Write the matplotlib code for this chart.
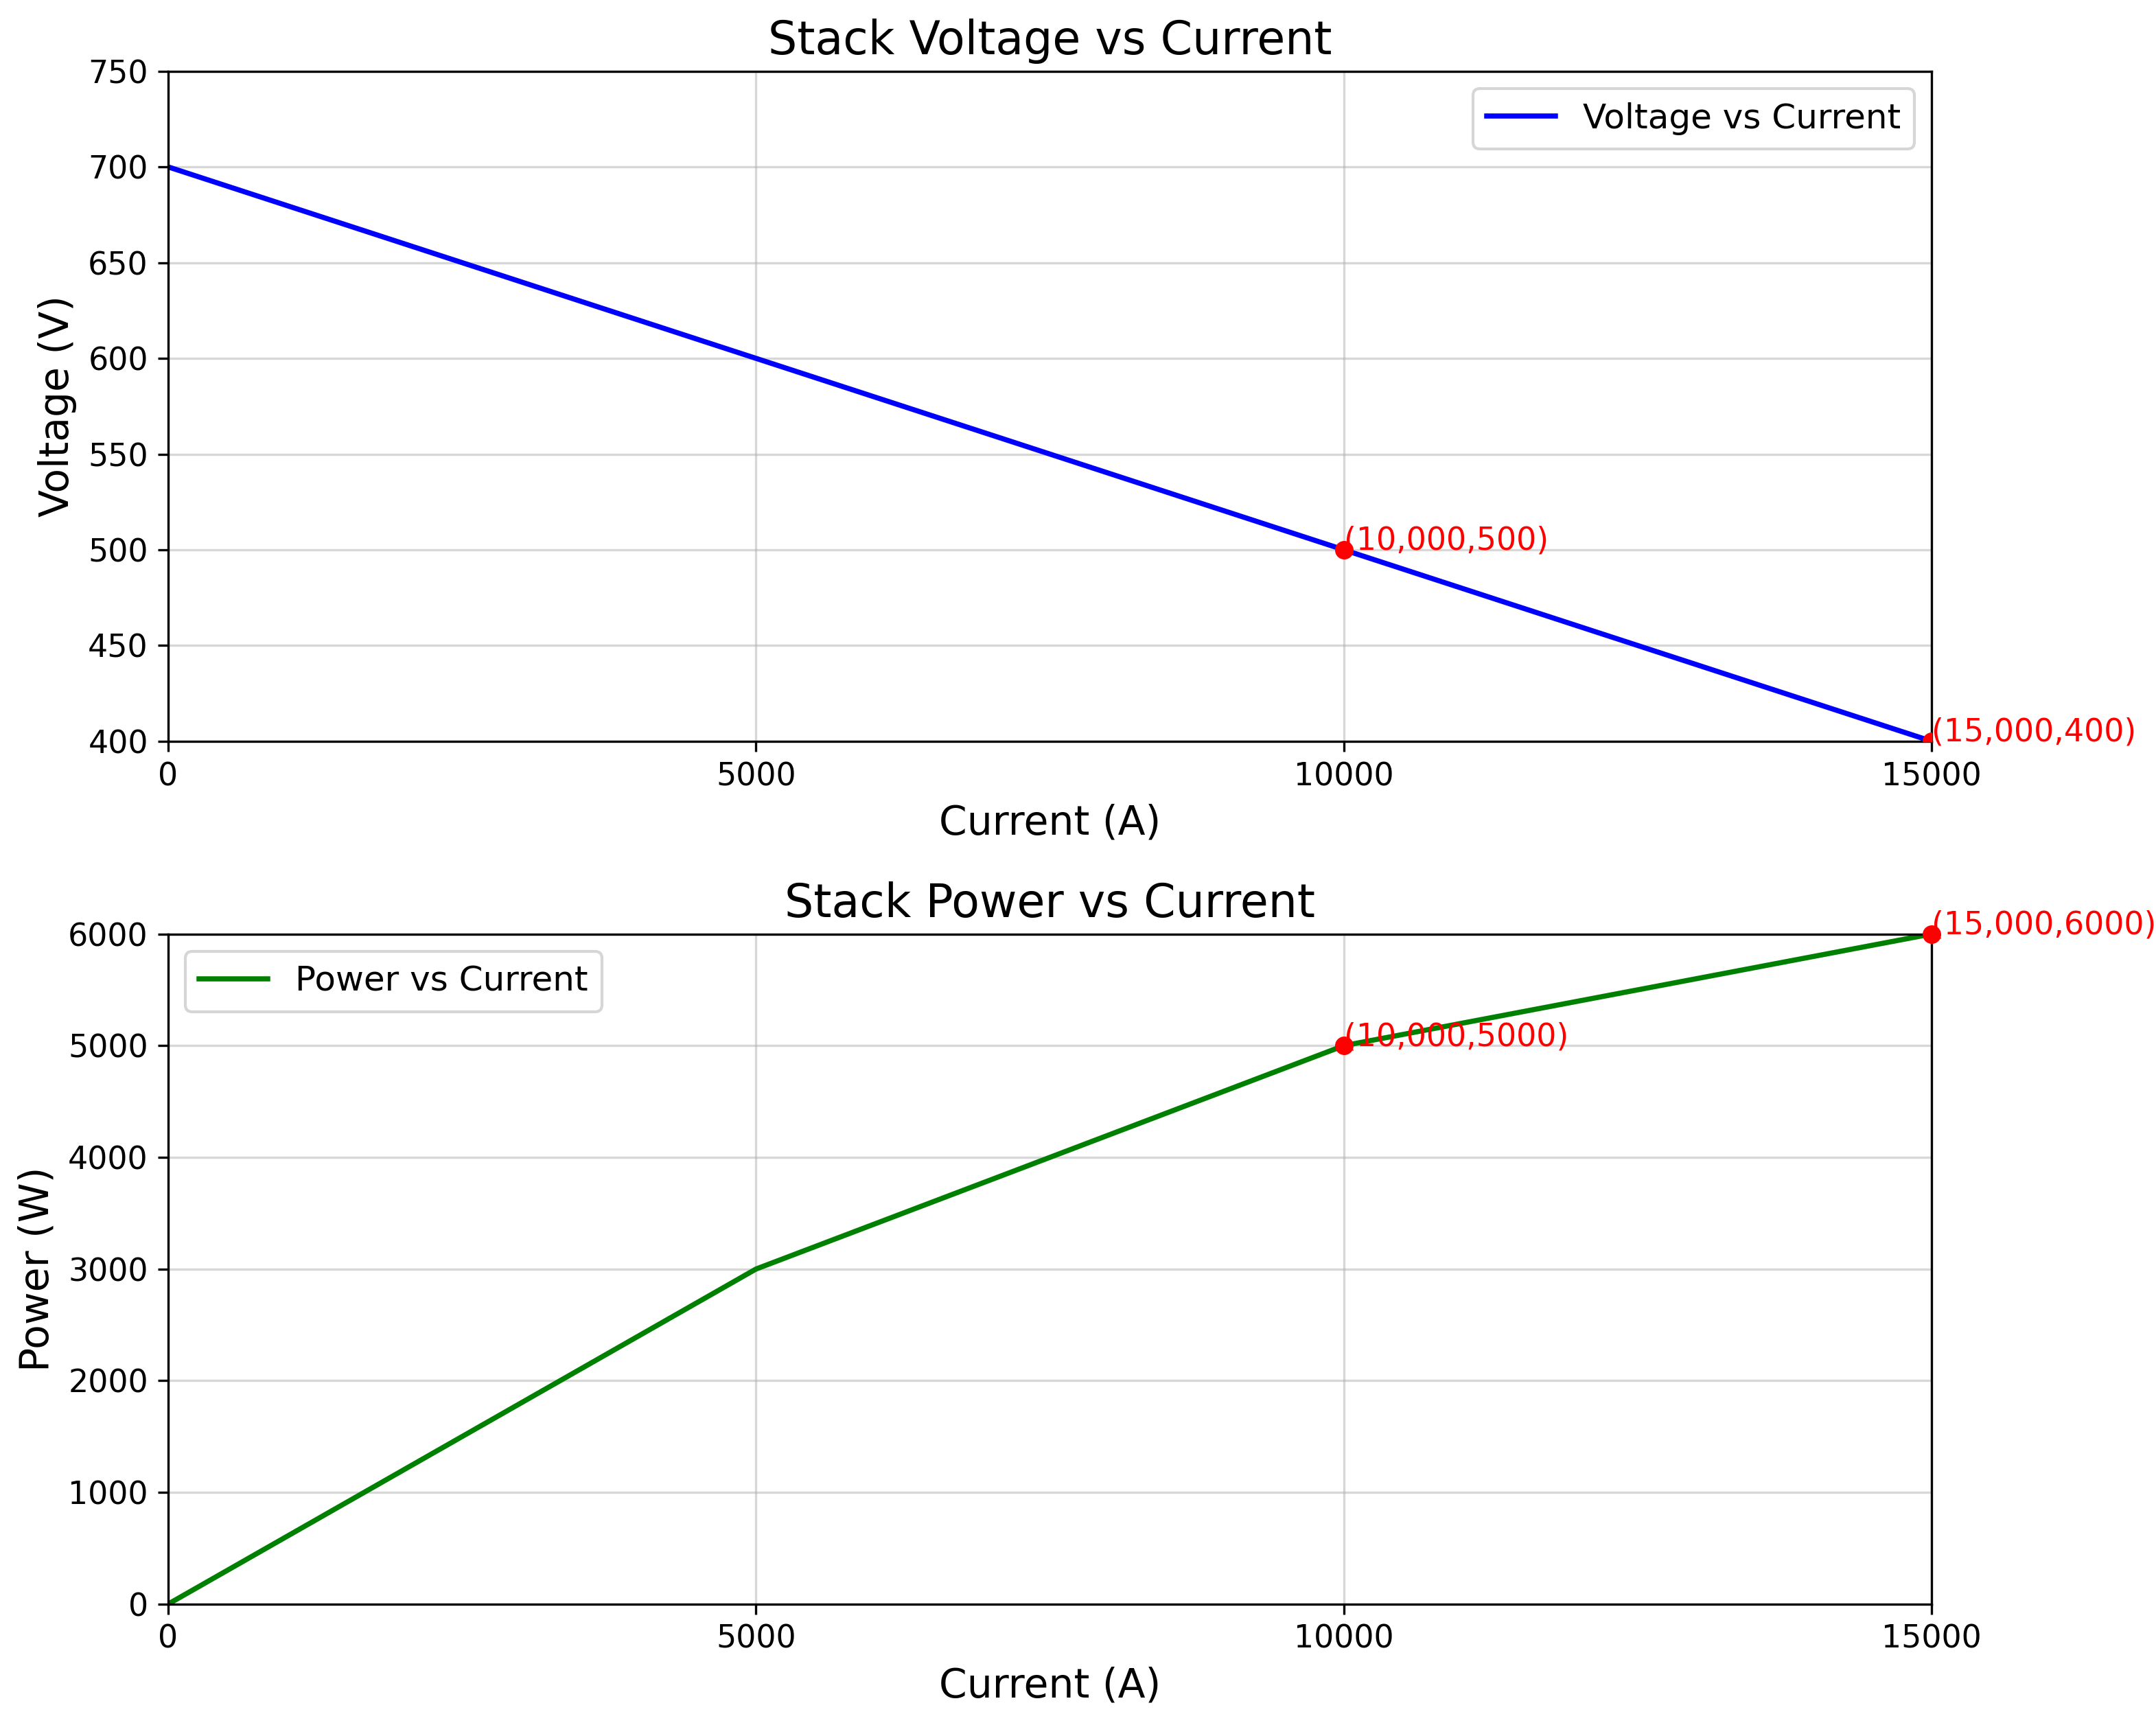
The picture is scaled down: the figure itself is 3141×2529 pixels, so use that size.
import matplotlib
matplotlib.use('Agg')
from matplotlib import pyplot as plt

current = [0, 5000, 10000, 15000]
voltage = [700, 600, 500, 400]
power = [0, 3000, 5000, 6000]

v_pts_x = [10000, 15000]
v_pts_y = [500, 400]
v_labels = ['(10,000,500)', '(15,000,400)']
p_pts_x = [10000, 15000]
p_pts_y = [5000, 6000]
p_labels = ['(10,000,5000)', '(15,000,6000)']

fig = plt.figure(figsize=(10.47, 8.43), dpi=300)
ax1 = fig.add_axes([0.078, 0.573, 0.818, 0.386])
ax2 = fig.add_axes([0.078, 0.076, 0.818, 0.386])

ax1.plot(current, voltage, color='blue', lw=1.8, label='Voltage vs Current')
ax1.scatter(v_pts_x, v_pts_y, color='red', s=30, zorder=3)
for x, y, t in zip(v_pts_x, v_pts_y, v_labels):
    ax1.text(x, y, t, color='red', fontsize=11)
ax1.set_xlim(0, 15000)
ax1.set_ylim(400, 750)
ax1.set_xticks([0, 5000, 10000, 15000])
ax1.set_title('Stack Voltage vs Current', fontsize=16)
ax1.set_xlabel('Current (A)', fontsize=14)
ax1.set_ylabel('Voltage (V)', fontsize=14)
ax1.grid(True, alpha=0.5)
ax1.legend(loc='upper right', fontsize=12)
ax1.tick_params(labelsize=11)

ax2.plot(current, power, color='green', lw=1.8, label='Power vs Current')
ax2.scatter(p_pts_x, p_pts_y, color='red', s=30, zorder=3, clip_on=False)
for x, y, t in zip(p_pts_x, p_pts_y, p_labels):
    ax2.text(x, y, t, color='red', fontsize=11)
ax2.set_xlim(0, 15000)
ax2.set_ylim(0, 6000)
ax2.set_xticks([0, 5000, 10000, 15000])
ax2.set_title('Stack Power vs Current', fontsize=16)
ax2.set_xlabel('Current (A)', fontsize=14)
ax2.set_ylabel('Power (W)', fontsize=14)
ax2.grid(True, alpha=0.5)
ax2.legend(loc='upper left', fontsize=12)
ax2.tick_params(labelsize=11)

fig.savefig('out.png', dpi=300)
